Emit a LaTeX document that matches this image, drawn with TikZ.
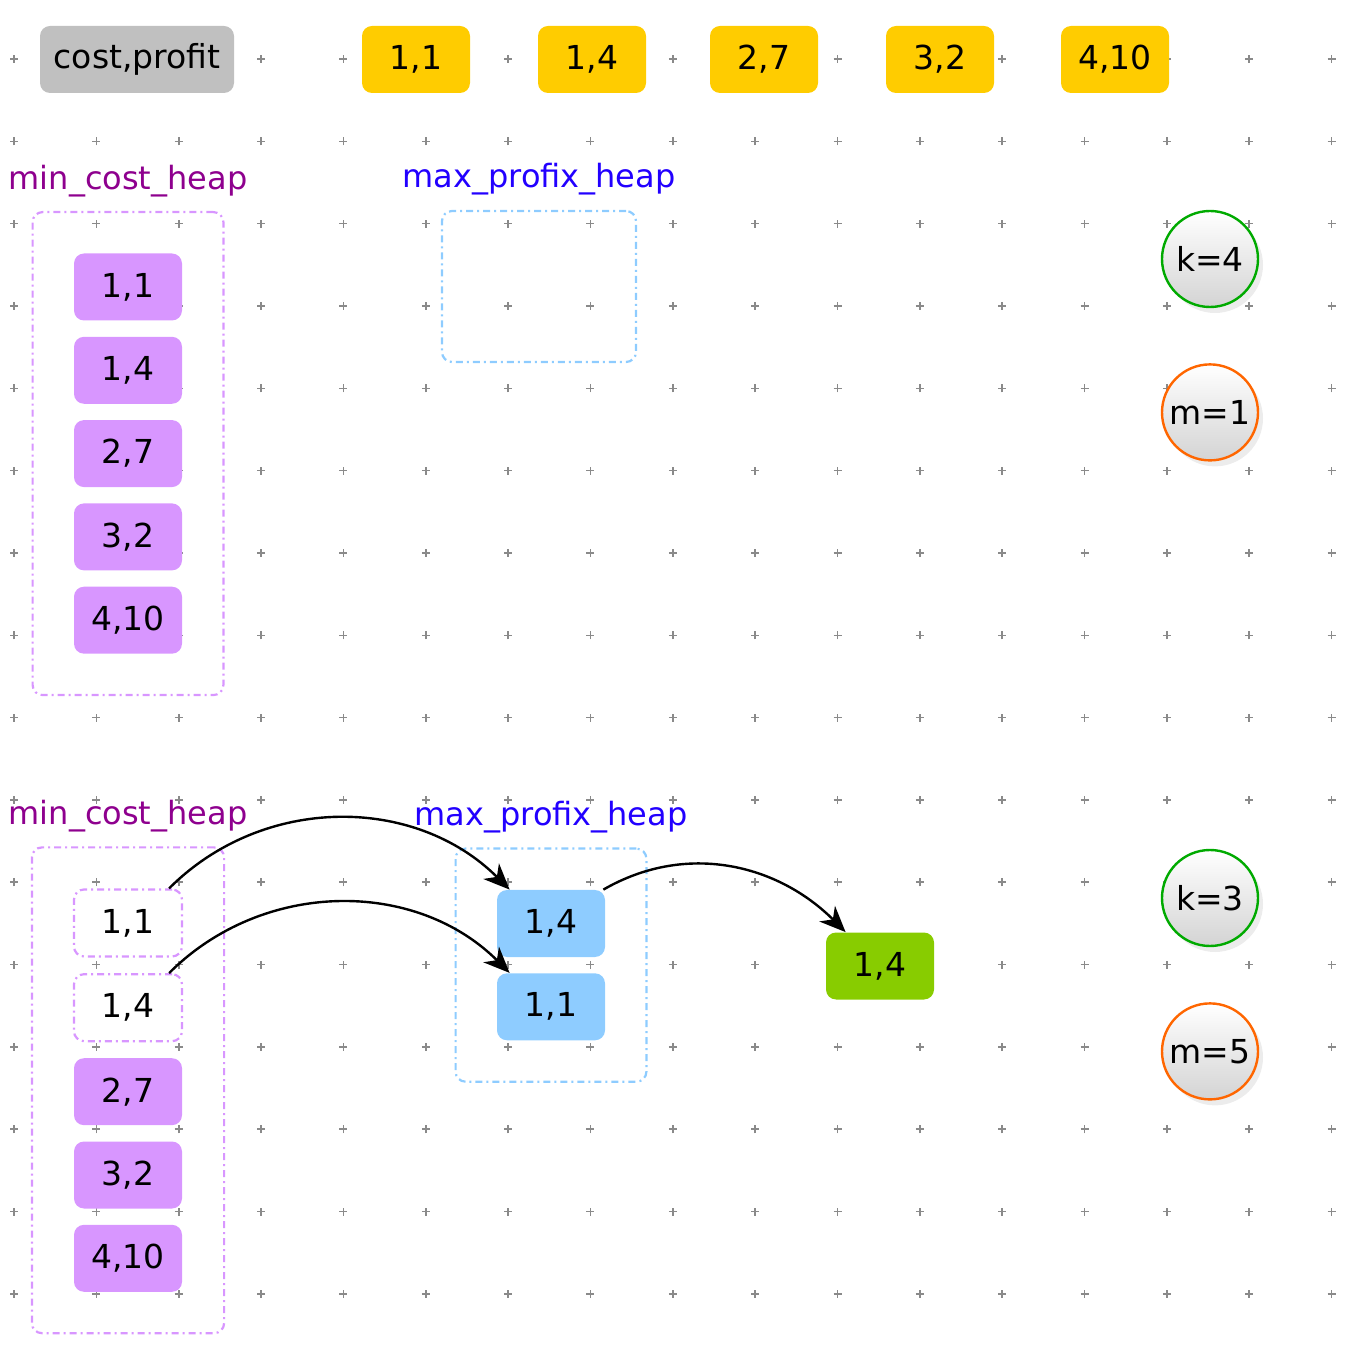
\documentclass[tikz,border=0pt]{standalone}
\usepackage{fontspec}
\setmainfont{DejaVu Sans}
\usepackage{tikz}
\usetikzlibrary{arrows.meta, positioning, fit, shadows}
\definecolor{headgrey}{HTML}{C0C0C0}
\definecolor{pairyellow}{HTML}{FFCC00}
\definecolor{heappurple}{HTML}{D896FF}
\definecolor{heapblue}{HTML}{8ECCFF}
\definecolor{pickgreen}{HTML}{88CC00}
\definecolor{minname}{HTML}{8E008E}
\definecolor{maxname}{HTML}{2200FF}
\definecolor{kgreen}{HTML}{00AA00}
\definecolor{morange}{HTML}{FF6600}
\definecolor{gridgrey}{HTML}{8A8A8A}
\tikzstyle{cellbox} = [rectangle, rounded corners=5pt, minimum width=54pt, minimum height=33.5pt, align=center, font=\fontsize{16.5}{19}\selectfont, inner sep=2pt]
\tikzstyle{headbox} = [cellbox, fill=headgrey, minimum width=97pt]
\tikzstyle{pairbox} = [cellbox, fill=pairyellow]
\tikzstyle{mincell} = [cellbox, fill=heappurple]
\tikzstyle{maxcell} = [cellbox, fill=heapblue]
\tikzstyle{takencell} = [cellbox, draw=heappurple, fill=white, line width=1.1pt, dash pattern=on 3.5pt off 2pt on 1pt off 2pt]
\tikzstyle{pickcell} = [cellbox, fill=pickgreen]
\tikzstyle{heapbox} = [rectangle, rounded corners=5pt, line width=1.1pt, dash pattern=on 3.5pt off 2pt on 1pt off 2pt, inner sep=20.5pt]
\tikzstyle{minheap} = [heapbox, draw=heappurple]
\tikzstyle{maxheap} = [heapbox, draw=heapblue]
\tikzstyle{heapname} = [inner sep=0pt, font=\fontsize{16}{19}\selectfont]
\tikzstyle{countcirc} = [circle, minimum size=48pt, line width=1.2pt, top color=white, bottom color=black!17, drop shadow={shadow xshift=2.5pt, shadow yshift=-3pt, opacity=0.15}, font=\fontsize{16.5}{19}\selectfont, inner sep=1pt]
\tikzstyle{flow} = [line width=1.2pt, -{Stealth[length=13pt, width=11pt, inset=4pt]}, color=black]

\begin{document}
\begin{tikzpicture}[x=0.5pt, y=0.5pt, node distance=7.75pt]
\useasboundingbox (0,0) rectangle (1362,-1358);

\foreach \i in {0,...,16}
  \foreach \j in {0,...,15}
    \draw[gridgrey, line width=0.8pt] ({14+82.35*\i-4},{-59-82.33*\j}) -- ++(8,0) ({14+82.35*\i},{-59-82.33*\j-4}) -- ++(0,8);

\node (hdr) [headbox] at (137,-59.5) {cost,profit};
\node (p11) [pairbox] at (416,-59.5) {1,1};
\node (p14) [pairbox] at (592,-59.5) {1,4};
\node (p27) [pairbox] at (764,-59.5) {2,7};
\node (p32) [pairbox] at (940,-59.5) {3,2};
\node (p410) [pairbox] at (1115,-59.5) {4,10};

\node (ta) [mincell] at (128,-287) {1,1};
\node (tb) [mincell, below=of ta] {1,4};
\node (tc) [mincell, below=of tb] {2,7};
\node (td) [mincell, below=of tc] {3,2};
\node (te) [mincell, below=of td] {4,10};
\node (mintop) [minheap, fit=(ta)(te)] {};
\node (mintopname) [heapname, text=minname, above=7pt of mintop.north] {min\_cost\_heap};
\node (maxtop) [maxheap, minimum width=97pt, minimum height=75.5pt] at (539,-286.5) {};
\node (maxtopname) [heapname, text=maxname, above=7pt of maxtop.north] {max\_profix\_heap};
\node (ktop) [countcirc, draw=kgreen] at (1210,-259) {k=4};
\node (mtop) [countcirc, draw=morange, below=27.5pt of ktop] {m=1};

\node (wa) [takencell] at (128,-923) {1,1};
\node (wb) [takencell, below=of wa] {1,4};
\node (bc) [mincell, below=of wb] {2,7};
\node (bd) [mincell, below=of bc] {3,2};
\node (be) [mincell, below=of bd] {4,10};
\node (minbot) [minheap, fit=(wa)(be)] {};
\node (minbotname) [heapname, text=minname, above=7pt of minbot.north] {min\_cost\_heap};
\node (ba) [maxcell] at (551,-923.5) {1,4};
\node (bb) [maxcell, below=of ba] {1,1};
\node (maxbot) [maxheap, fit=(ba)(bb)] {};
\node (maxbotname) [heapname, text=maxname, above=7pt of maxbot.north] {max\_profix\_heap};
\node (pick) [pickcell] at (880,-966) {1,4};
\node (kbot) [countcirc, draw=kgreen] at (1210,-898) {k=3};
\node (mbot) [countcirc, draw=morange, below=27.5pt of kbot] {m=5};

\draw[flow] ([xshift=-7pt]wa.north east) to[out=45, in=135] ([xshift=6.5pt]ba.north west);
\draw[flow] ([xshift=-7pt]wb.north east) to[out=45, in=135] ([xshift=6.5pt]bb.north west);
\draw[flow] ([xshift=-1pt]ba.north east) to[out=30, in=135] ([xshift=10pt]pick.north west);

\end{tikzpicture}
\end{document}
